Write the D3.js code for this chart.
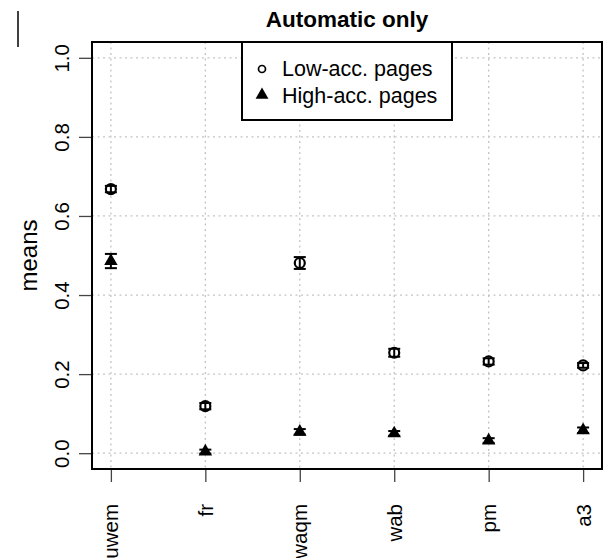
<!DOCTYPE html>
<html>
<head>
<meta charset="utf-8">
<script src="https://cdn.jsdelivr.net/npm/d3@7"></script>
<style>
  body { margin: 0; background: #fff; }
  text { font-family: "Liberation Sans", Arial, Helvetica, sans-serif; fill: #000; }
</style>
</head>
<body>
<svg width="605" height="558"></svg>
<script>
// data
const methods = ["uwem", "fr", "waqm", "wab", "pm", "a3"];
const lowMeans = [0.668, 0.119, 0.481, 0.254, 0.232, 0.222];
const lowErr = [0.008, 0.008, 0.015, 0.010, 0.008, 0.006];
const highMeans = [0.486, 0.004, 0.054, 0.050, 0.032, 0.058];
const highErr = [0.018, 0.005, 0.007, 0.006, 0.006, 0.007];
const yTicks = [0.0, 0.2, 0.4, 0.6, 0.8, 1.0];

const margin = {top: 42, right: 3, bottom: 89, left: 92};
const width = 605 - margin.left - margin.right;
const height = 558 - margin.top - margin.bottom;

const svg = d3.select("svg");
const g = svg.append("g")
  .attr("transform", "translate(" + margin.left + "," + margin.top + ")");

// R style: index 1..n, padded 4% each side
const x = d3.scaleLinear().domain([0.8, methods.length + 0.2]).range([0, width]);
const y = d3.scaleLinear().domain([-0.04, 1.04]).range([height, 0]);

// dotted grid
g.append("g").selectAll("line").data(methods).join("line")
  .attr("x1", (d, i) => x(i + 1)).attr("x2", (d, i) => x(i + 1))
  .attr("y1", 0).attr("y2", height)
  .attr("stroke", "#c4c4c4").attr("stroke-width", 1.3).attr("stroke-dasharray", "2,3.5");
g.append("g").selectAll("line").data(yTicks).join("line")
  .attr("x1", 0).attr("x2", width)
  .attr("y1", d => y(d)).attr("y2", d => y(d))
  .attr("stroke", "#c4c4c4").attr("stroke-width", 1.3).attr("stroke-dasharray", "2,3.5");

// axes
const yAxis = g.append("g")
  .call(d3.axisLeft(y).tickValues(yTicks).tickFormat(d3.format(".1f")).tickSize(13).tickPadding(10));
yAxis.select(".domain").remove();
yAxis.selectAll("line").attr("stroke", "#444").attr("stroke-width", 1.3);
yAxis.selectAll("text")
  .attr("x", null).attr("dy", null)
  .attr("text-anchor", "middle")
  .attr("transform", "translate(-23,0) rotate(-90)")
  .style("font-size", "20.5px");

const xAxis = g.append("g")
  .attr("transform", "translate(0," + height + ")")
  .call(d3.axisBottom(x).tickValues(d3.range(1, methods.length + 1)).tickFormat(i => methods[i - 1]).tickSize(13));
xAxis.select(".domain").remove();
xAxis.selectAll("line").attr("stroke", "#444").attr("stroke-width", 1.3);
xAxis.selectAll("text")
  .attr("y", null).attr("dy", null)
  .attr("text-anchor", "end")
  .attr("transform", "translate(7,35) rotate(-90)")
  .style("font-size", "20.5px");

// frame
g.append("rect")
  .attr("width", width).attr("height", height)
  .attr("fill", "none").attr("stroke", "#000").attr("stroke-width", 2);

// error bars
function errorBars(means, errs) {
  const eb = g.append("g").attr("stroke", "#000").attr("stroke-width", 2);
  means.forEach((m, i) => {
    const cx = x(i + 1);
    eb.append("line").attr("x1", cx).attr("x2", cx).attr("y1", y(m - errs[i])).attr("y2", y(m + errs[i]));
    eb.append("line").attr("x1", cx - 6).attr("x2", cx + 6).attr("y1", y(m - errs[i])).attr("y2", y(m - errs[i]));
    eb.append("line").attr("x1", cx - 6).attr("x2", cx + 6).attr("y1", y(m + errs[i])).attr("y2", y(m + errs[i]));
  });
}
errorBars(lowMeans, lowErr);
errorBars(highMeans, highErr);

const tri = d3.symbol().type(d3.symbolTriangle).size(78);

g.append("g").selectAll("circle").data(lowMeans).join("circle")
  .attr("cx", (d, i) => x(i + 1)).attr("cy", d => y(d)).attr("r", 5)
  .attr("fill", "none").attr("stroke", "#000").attr("stroke-width", 2.2);

g.append("g").selectAll("path").data(highMeans).join("path")
  .attr("d", tri)
  .attr("transform", (d, i) => "translate(" + x(i + 1) + "," + y(d) + ")")
  .attr("fill", "#000");

// legend
const legend = svg.append("g").attr("transform", "translate(242,42)");
legend.append("rect").attr("width", 210).attr("height", 78)
  .attr("fill", "#fff").attr("stroke", "#000").attr("stroke-width", 2);
legend.append("circle").attr("cx", 20).attr("cy", 27).attr("r", 3.5)
  .attr("fill", "none").attr("stroke", "#000").attr("stroke-width", 1.7);
legend.append("path").attr("d", d3.symbol().type(d3.symbolTriangle).size(72))
  .attr("transform", "translate(20,53)").attr("fill", "#000");
legend.append("text").attr("x", 40).attr("y", 34).style("font-size", "21.5px").text("Low-acc. pages");
legend.append("text").attr("x", 40).attr("y", 61).style("font-size", "21.5px").text("High-acc. pages");

// title
svg.append("text")
  .attr("x", margin.left + width / 2).attr("y", 27)
  .attr("text-anchor", "middle")
  .style("font-size", "22.5px").style("font-weight", "bold")
  .text("Automatic only");

// y label
svg.append("text")
  .attr("transform", "translate(37," + (margin.top + height / 2) + ") rotate(-90)")
  .attr("text-anchor", "middle")
  .style("font-size", "24px")
  .text("means");

// stray edge line from the neighbouring panel
svg.append("line").attr("x1", 18).attr("x2", 18).attr("y1", 11).attr("y2", 47)
  .attr("stroke", "#000").attr("stroke-width", 1.5);
</script>
</body>
</html>
